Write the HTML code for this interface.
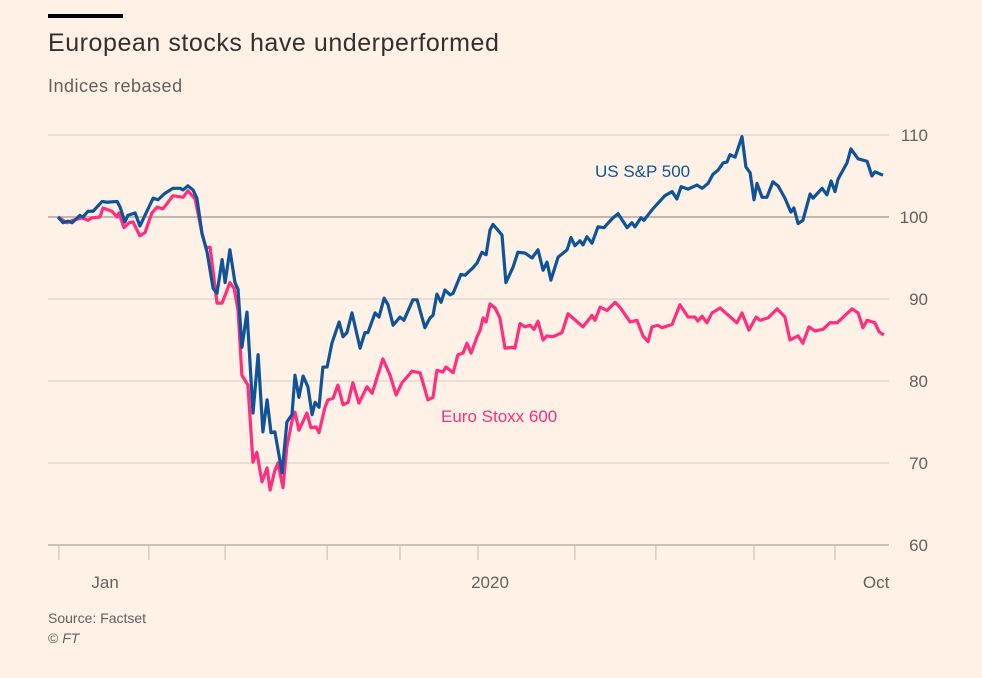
<!DOCTYPE html>
<html><head><meta charset="utf-8"><style>
body{margin:0;background:#fff1e5;width:982px;height:678px;overflow:hidden;font-family:"Liberation Sans",sans-serif}
.t{position:absolute;white-space:nowrap}
</style></head><body>
<div style="position:absolute;left:48px;top:14px;width:75px;height:4px;background:#000"></div>
<div class="t" style="left:48px;top:29px;font-size:25px;letter-spacing:0.55px;color:#33302e">European stocks have underperformed</div>
<div class="t" style="left:48px;top:76px;font-size:18px;letter-spacing:0.5px;color:#66605c">Indices rebased</div>
<svg id="chart" width="982" height="678" style="position:absolute;left:0;top:0"></svg>
<div class="t" style="left:48px;top:610px;font-size:14px;color:#66605c">Source: Factset</div>
<div class="t" style="left:48px;top:630px;font-size:14px;color:#66605c">© <i>FT</i></div>
<script>
const yTicks=[110,100,90,80,70,60];
const xTickDays=[0.3,30.3,55.7,89.7,114,140,172.3,199.3,232,259];
const xLabels=["Jan","2020","Oct"];
const xLabelDays=[15.7,144,272.7];
const spDays=[0,1.7,3.3,4.7,7.3,8.3,10,11.7,14.7,16.3,19.7,20.7,22.3,23.3,25.7,27.3,31.7,33.3,35.7,38.3,40.7,41.7,43.3,45,46.3,48,49.7,51.7,53,54.7,55.7,57.3,59,60,61.3,63,65,66.7,68.3,69.7,71,72.3,74.7,76.3,78,79,80.3,81.7,83.3,84.7,85.7,87,88.3,89.7,91.3,93.7,95,96.3,98,100.7,102.3,103.3,105.7,107,108.7,110,111.7,114,115.3,118.3,119.7,122.3,124,125,126.3,127.7,129,130.7,131.7,134.3,135.7,138.3,139.7,141.3,142.7,144,145,148,149.3,151.7,153.3,155.7,158,160,161.7,163,164.3,166.7,169.7,171,172.3,174,175,176.3,178,180,182,184.7,186.7,189.7,191.3,192.3,194.3,195.3,198.3,202.3,204.7,206.3,207.7,210,213,214.7,216.7,218.3,220,221.7,223,224,225.7,228,229.3,230.7,232,233,234.7,236.3,238.3,240,242.3,244.3,245.3,246.7,248.3,250.7,251.7,254.7,256.3,257.7,259,260,263,264.3,266.7,269.7,271.3,272.3,275];
const spValues=[100,99.3,99.5,99.3,100.2,100,100.7,100.7,101.9,101.8,101.9,101.2,99.4,100.2,100.5,98.9,102.3,102.1,102.9,103.5,103.5,103.3,103.8,103.3,102.3,98,95.7,91.3,90.7,94.8,92,96,92,91.2,84.1,88.4,76.1,83.2,73.8,77.7,73.7,73.8,68.8,75,75.9,80.7,78,80.6,79.3,75.9,77.4,76.8,81.7,81.7,84.6,87.2,85.4,85.9,88.3,84,85.9,85.9,88.3,87.8,90.1,89.3,86.8,87.8,87.4,89.9,89.9,86.5,87.7,88,90.6,89.6,91.1,90.5,90.7,93,92.9,93.8,94.4,95.7,95.4,98.4,99.1,97.8,92,93.9,95.7,95.6,95,96,93.5,94.5,92.3,95.1,96,97.5,96.5,97.1,96.6,97.6,96.8,98.8,98.7,99.8,100.4,98.7,99.3,98.8,99.9,99.6,101,102.6,103.1,102.2,103.7,103.4,103.9,103.5,104.1,105.2,105.7,106.6,106.7,107.6,107.3,109.8,106.1,105.4,102.1,104.1,102.4,102.4,104.3,103.8,102.3,100.6,101.1,99.2,99.6,102.8,102.3,103.5,102.7,104.4,103.1,104.6,106.6,108.3,107.1,106.8,105,105.5,105.1];
const euDays=[0,3,5,8,10,11.3,14,15,18,19.7,20.3,22,23.7,25,27.3,29,31.3,33,35,36.7,38.3,41.7,43.3,45.7,48,49.3,50.7,53,54.7,57.3,58.7,60,61.3,63.3,65,66.3,68,69.7,70.7,72.3,73.3,75,76.3,78,79,80.3,83,84.3,86,87,89,90,91.7,93.3,95,96.7,98.3,100.3,103,104.7,108.3,110.7,112.7,114.7,118,120.7,123.3,125,126.3,128.3,129.3,131.7,133.3,135,136.3,137.7,139.7,140.7,141.7,142.7,144,145.7,147.3,149,151.3,152.3,154,155.7,157.3,158.7,160,161.7,163,165,168,170,175,178,179,180.7,183,185.7,187.3,190.7,193,195,196.7,198,200,201.3,204.7,207.3,210,212.3,213.3,214.7,216.3,218,220.7,226.3,228,230.3,232.7,234,236.7,239.7,242.3,244,246.7,248.3,250.3,252.3,255,257.3,259.7,264.7,266.7,268.3,269.7,272.3,273.7,275.3];
const euValues=[100,99.3,99.6,99.9,99.6,99.9,100,101.1,100.7,100,100.5,98.7,99.3,99.4,97.7,98.1,100.5,101.2,101,101.8,102.6,102.4,103.2,102.2,98,96.3,96.3,89.5,89.5,92,91.3,88.7,80.7,79.5,70.1,71.3,67.7,69.4,66.7,69.1,70,67,72,75.1,76.2,74,76.1,74.3,74.4,73.7,76.8,77.7,77.9,79.5,77.1,77.4,79.8,77.3,79.3,78.5,82.7,80.7,78.3,79.8,81.2,81,77.7,78,81.3,81.1,81.7,81,83.2,83.4,84.6,83.4,85.4,86.2,87.7,87.2,89.4,88.9,87.7,84,84.1,84,87,86.6,86.8,86.3,87.3,85,85.5,85.4,85.9,88.2,86.6,88,87.4,89,88.6,89.6,89,87.2,87.4,85.5,84.8,86.6,86.8,86.5,86.9,89.3,87.8,87.8,87.3,87.9,87.1,88.3,88.9,87.1,88.3,86.2,87.8,87.4,87.7,88.8,87.8,85,85.5,84.6,86.6,86.1,86.3,87.1,87.1,88.8,88.3,86.5,87.4,87.1,86,85.6];

const NS="http://www.w3.org/2000/svg";
const svg=document.getElementById('chart');
const X=d=>58+d*3;
const Y=v=>217-(v-100)*8.2;
function mk(tag,attrs,parent){const e=document.createElementNS(NS,tag);for(const k in attrs)e.setAttribute(k,attrs[k]);(parent||svg).appendChild(e);return e;}
yTicks.forEach(v=>{
  const l=mk('line',{x1:48,x2:889,y1:Y(v),y2:Y(v),stroke:v===100?'#c2b8ae':(v===60?'#ccc1b7':'#e3d9cf'),'stroke-width':v===100||v===60?2:1.5});
  
  
  const t=mk('text',{x:928,y:Y(v)+6,'text-anchor':'end','font-size':17,fill:'#66605c','font-family':'Liberation Sans, sans-serif'});
  t.textContent=v;
  
  
});
xTickDays.forEach((d,i)=>{
  const l=mk('line',{x1:X(d),x2:X(d),y1:545,y2:560,stroke:'#ccc1b7','stroke-width':1.2});
  
  
});
xLabels.forEach((s,i)=>{
  const t=mk('text',{x:X(xLabelDays[i]),y:588,'text-anchor':'middle','font-size':17,fill:'#66605c','font-family':'Liberation Sans, sans-serif'});
  t.textContent=s;
  
  
});
function line(days,vals,color,name){
  const p=mk('polyline',{points:days.map((d,i)=>X(d)+','+Y(vals[i])).join(' '),fill:'none',stroke:color,'stroke-width':3.2,'stroke-linejoin':'round'});
  
  
}
line(euDays,euValues,'#ff2e7e','euro-stoxx-600-line');
line(spDays,spValues,'#0f5499','sp500-line');
const a=mk('text',{x:595,y:177,'font-size':17,fill:'#0f5499','font-family':'Liberation Sans, sans-serif'});
a.textContent='US S&P 500';


const b=mk('text',{x:441,y:422,'font-size':17,fill:'#ff2e7e','font-family':'Liberation Sans, sans-serif'});
b.textContent='Euro Stoxx 600';


</script>
</body></html>
